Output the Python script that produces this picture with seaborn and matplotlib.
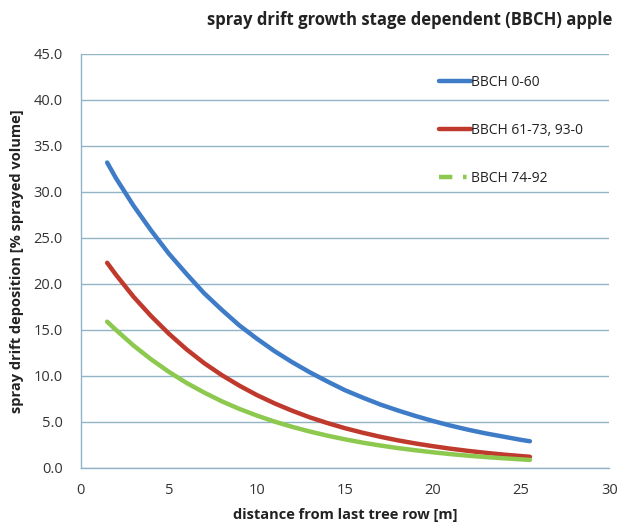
import pandas as pd
import matplotlib
matplotlib.use('Agg')
import matplotlib.pyplot as plt
from matplotlib.lines import Line2D
import seaborn as sns

# values
distance = [1.5, 2, 3, 4, 5, 6, 7, 8, 9, 10, 11, 12, 13, 14, 15, 16, 17,
            18, 19, 20, 21, 22, 23, 24, 25, 25.5]
bbch_0_60 = [33.2, 31.5, 28.5, 25.8, 23.3, 21.1, 19.0, 17.2, 15.5, 14.05, 12.7,
             11.5, 10.4, 9.4, 8.45, 7.65, 6.9, 6.25, 5.65, 5.1, 4.6, 4.15, 3.75,
             3.4, 3.05, 2.9]
bbch_61_73 = [22.3, 21.0, 18.6, 16.5, 14.6, 12.9, 11.4, 10.1, 8.95, 7.92, 7.02,
              6.22, 5.5, 4.88, 4.32, 3.83, 3.39, 3.0, 2.66, 2.36, 2.09, 1.85,
              1.64, 1.45, 1.29, 1.21]
bbch_74_92 = [15.9, 15.0, 13.3, 11.8, 10.45, 9.25, 8.2, 7.25, 6.42, 5.69, 5.04,
              4.47, 3.96, 3.51, 3.11, 2.75, 2.44, 2.16, 1.92, 1.7, 1.5, 1.33,
              1.18, 1.05, 0.93, 0.87]

series_names = ['BBCH 0-60', 'BBCH 61-73, 93-0', 'BBCH 74-92']
colors = ['#3e7cc8', '#c0392d', '#8cc94e']

df = pd.DataFrame({
    'distance': distance * 3,
    'deposition': bbch_0_60 + bbch_61_73 + bbch_74_92,
    'stage': [s for s in series_names for _ in distance],
})

sns.set_style('white')
plt.rcParams['font.family'] = ['Open Sans', 'DejaVu Sans']

fig = plt.figure(figsize=(6.21, 5.24), dpi=100)
ax = fig.add_axes([0.130, 0.107, 0.851, 0.790])

grid_col = '#93b4c6'
sns.lineplot(data=df, x='distance', y='deposition', hue='stage',
             palette=dict(zip(series_names, colors)), linewidth=3.2,
             legend=False, ax=ax)
for ln in ax.get_lines():
    ln.set_solid_capstyle('round')
    ln.set_solid_joinstyle('round')

ax.set_xlim(0, 30)
ax.set_ylim(0, 45)
ax.set_xticks(range(0, 31, 5))
ax.set_yticks([i * 5 for i in range(10)])
ax.set_yticklabels([f'{i * 5:.1f}' for i in range(10)])
ax.yaxis.grid(True, color=grid_col, linewidth=1.0)
ax.set_axisbelow(True)

for side in ['top', 'right']:
    ax.spines[side].set_visible(False)
for side in ['left', 'bottom']:
    ax.spines[side].set_color(grid_col)
    ax.spines[side].set_linewidth(1.0)
ax.tick_params(axis='both', which='major', length=5, width=1.0, color=grid_col,
               labelsize=10.5, labelcolor='#333333', direction='out')
ax.tick_params(axis='x', pad=6)
ax.tick_params(axis='y', pad=8)

ax.set_xlabel('distance from last tree row [m]', fontsize=10.5, fontweight='bold',
              color='#222222', labelpad=7)
ax.set_ylabel('spray drift deposition [% sprayed volume]', fontsize=10.5,
              fontweight='bold', color='#222222', labelpad=7)
fig.text(0.986, 0.962, 'spray drift growth stage dependent (BBCH) apple',
         ha='right', va='center', fontsize=12, fontweight='bold', color='#222222')

handles = [
    Line2D([], [], color=colors[0], lw=3.2, solid_capstyle='round'),
    Line2D([], [], color=colors[1], lw=3.2, solid_capstyle='round'),
    # legend shows "dash - gap - dot" for the last series
    Line2D([], [], color=colors[2], lw=3.2, linestyle=(0, (3.0, 2.4, 0.8, 5))),
]
leg = ax.legend(handles, series_names, loc='upper left', bbox_to_anchor=(0.667, 0.962),
                frameon=False, fontsize=10, handlelength=2.3, handletextpad=0.05,
                labelspacing=2.35, borderaxespad=0)
for t in leg.get_texts():
    t.set_color('#222222')

fig.savefig('out.png', dpi=100)
